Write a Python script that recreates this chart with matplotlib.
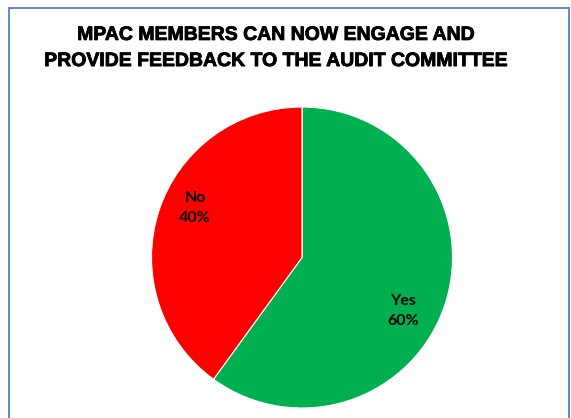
import matplotlib
matplotlib.use("Agg")
import matplotlib.pyplot as plt
from matplotlib.patches import Rectangle
import matplotlib.patheffects as pe

categories = ["Yes", "No"]
shares = [60, 40]
colors = ["#00B050", "#FF0000"]
title = "MPAC MEMBERS CAN NOW ENGAGE AND\nPROVIDE FEEDBACK TO THE AUDIT COMMITTEE"

W, H = 571, 418
fig = plt.figure(figsize=(W / 100, H / 100), dpi=100)
fig.patch.set_facecolor("white")

# chart frame
fig.add_artist(Rectangle((9 / W, -0.05), 560 / W, 1.05 - 7.5 / H,
                         transform=fig.transFigure, fill=False,
                         edgecolor="#5A8AD0", linewidth=1.4))

fig.text(276 / W, 1 - 48.5 / H, title, ha="center", va="center",
         family="Liberation Sans", fontweight="bold", fontsize=14,
         linespacing=1.7,
         path_effects=[pe.withStroke(linewidth=0.6, foreground="black")])

# pie area: centre (302, 257.5) px, radius 150.5 px
r = 150.5
ax = fig.add_axes([(302 - r) / W, (H - 257.5 - r) / H, 2 * r / W, 2 * r / H])
wedges, _ = ax.pie(shares, colors=colors, startangle=90, counterclock=False,
                   radius=1.0, wedgeprops=dict(edgecolor="white", linewidth=0.8))
ax.set_xlim(-1, 1)
ax.set_ylim(-1, 1)
ax.set_aspect("equal")
ax.axis("off")

label_pos = {"Yes": (0.671, -0.355), "No": (-0.711, 0.33)}
for cat, val in zip(categories, shares):
    x, y = label_pos[cat]
    ax.text(x, y, f"{cat}\n{val}%", ha="center", va="center",
            family="Lato", fontweight="bold", fontsize=11.5,
            linespacing=1.5, color="black")

fig.savefig("out.png", dpi=100)
